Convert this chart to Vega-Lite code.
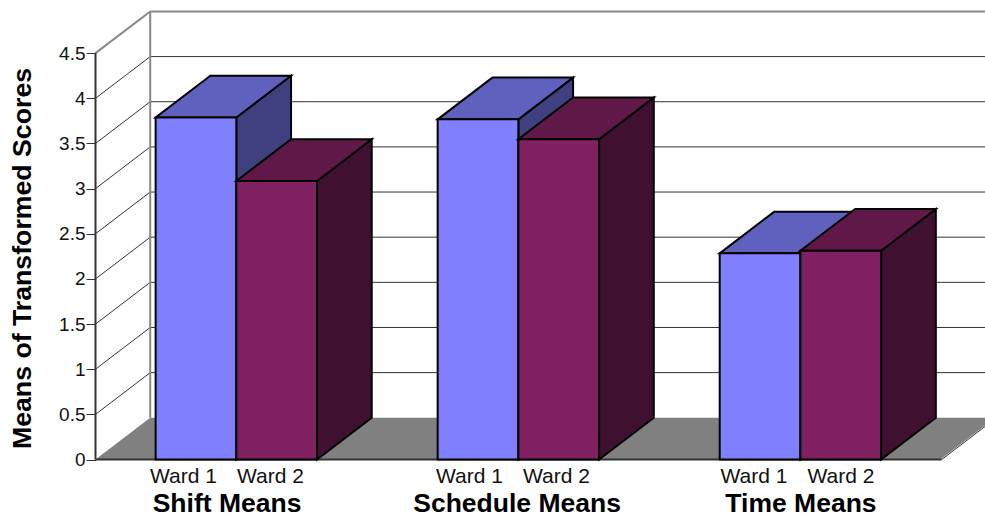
{
  "$schema": "https://vega.github.io/schema/vega-lite/v6.json",
  "width": 985,
  "height": 519,
  "padding": 0,
  "autosize": {"type": "none"},
  "background": "white",
  "view": {"stroke": null},
  "config": {"font": "Liberation Sans"},
  "resolve": {"axis": {"x": "independent", "y": "independent"}},
  "datasets": {
    "scores": [
      {"group": "Shift Means", "ward": "Ward 1", "value": 3.787},
      {"group": "Shift Means", "ward": "Ward 2", "value": 3.084},
      {"group": "Schedule Means", "ward": "Ward 1", "value": 3.767},
      {"group": "Schedule Means", "ward": "Ward 2", "value": 3.546},
      {"group": "Time Means", "ward": "Ward 1", "value": 2.283},
      {"group": "Time Means", "ward": "Ward 2", "value": 2.312}
    ],
    "ticks": [
      {"tick": 0}, {"tick": 0.5}, {"tick": 1}, {"tick": 1.5}, {"tick": 2},
      {"tick": 2.5}, {"tick": 3}, {"tick": 3.5}, {"tick": 4}, {"tick": 4.5}
    ]
  },
  "data": {"name": "scores"},
  "transform": [
    {"calculate": "indexof(['Shift Means','Schedule Means','Time Means'], datum.group)", "as": "g"},
    {"calculate": "datum.ward === 'Ward 1' ? 0 : 1", "as": "w"},
    {"calculate": "datum.g * 3.495 + datum.w + 0.745", "as": "x0"},
    {"calculate": "[0, 1]", "as": "step"},
    {"flatten": ["step"]},
    {"calculate": "datum.group + datum.ward", "as": "bar"},
    {"calculate": "datum.x0 + datum.step * 0.678", "as": "xl"},
    {"calculate": "datum.xl + 1", "as": "xr"},
    {"calculate": "datum.step * 0.462", "as": "base"},
    {"calculate": "datum.value + datum.step * 0.462", "as": "lift"}
  ],
  "layer": [
    {
      "data": {"name": "ticks"},
      "transform": [
        {"filter": "datum.tick <= 0.5"},
        {"calculate": "datum.tick * 2 * 0.678", "as": "fx"},
        {"calculate": "datum.fx + 10.47", "as": "fx2"},
        {"calculate": "datum.tick * 2 * 0.462", "as": "fy"}
      ],
      "mark": {"type": "area", "orient": "horizontal", "fill": "#808080", "clip": true},
      "encoding": {
        "x": {"field": "fx", "type": "quantitative", "scale": {"domain": [-1.1834, 11.0223], "nice": false, "zero": false}, "axis": null},
        "x2": {"field": "fx2"},
        "y": {"field": "fy", "type": "quantitative", "scale": {"domain": [-0.6589, 5.0886], "nice": false, "zero": false}, "axis": {
          "values": [0, 0.5, 1, 1.5, 2, 2.5, 3, 3.5, 4, 4.5],
          "format": "~g",
          "orient": "left", "offset": -95.5, "domain": false, "grid": false,
          "tickColor": "#333333", "tickSize": 9.5, "tickWidth": 1,
          "labelFont": "Liberation Sans", "labelFontSize": 19, "labelColor": "#111111", "labelPadding": 1,
          "title": "Means of Transformed Scores",
          "titleFont": "Liberation Sans", "titleFontSize": 26.7, "titleFontWeight": "bold", "titleColor": "black",
          "titleX": -65.5, "titleY": 258, "titleAngle": -90, "titleAlign": "center", "titleBaseline": "alphabetic"
        }}
      }
    },
    {
      "data": {"name": "ticks"},
      "transform": [
        {"filter": "datum.tick > 0 && datum.tick < 4.5"},
        {"calculate": "datum.tick + 0.462", "as": "back"}
      ],
      "layer": [
        {
          "mark": {"type": "rule", "color": "#333333", "strokeWidth": 1},
          "encoding": {
            "x": {"datum": 0, "type": "quantitative", "axis": null},
            "x2": {"datum": 0.678},
            "y": {"field": "tick", "type": "quantitative", "axis": null},
            "y2": {"field": "back"}
          }
        },
        {
          "mark": {"type": "rule", "color": "#333333", "strokeWidth": 1, "clip": true},
          "encoding": {
            "x": {"datum": 0.678, "type": "quantitative", "axis": null},
            "x2": {"datum": 11.2},
            "y": {"field": "back", "type": "quantitative", "axis": null}
          }
        }
      ]
    },
    {
      "data": {"name": "ticks"},
      "transform": [
        {"filter": "datum.tick === 4.5"},
        {"calculate": "datum.tick + 0.462", "as": "back"},
        {"calculate": "0", "as": "zero"},
        {"calculate": "0.462", "as": "floorBack"}
      ],
      "layer": [
        {
          "mark": {"type": "rule", "color": "#888888", "strokeWidth": 2},
          "encoding": {
            "x": {"datum": 0, "type": "quantitative", "axis": null},
            "x2": {"datum": 0.678},
            "y": {"field": "tick", "type": "quantitative", "axis": null},
            "y2": {"field": "back"}
          }
        },
        {
          "mark": {"type": "rule", "color": "#888888", "strokeWidth": 2, "clip": true},
          "encoding": {
            "x": {"datum": 0.678, "type": "quantitative", "axis": null},
            "x2": {"datum": 11.2},
            "y": {"field": "back", "type": "quantitative", "axis": null}
          }
        },
        {
          "mark": {"type": "rule", "color": "#888888", "strokeWidth": 2},
          "encoding": {
            "x": {"datum": 0.678, "type": "quantitative", "axis": null},
            "y": {"field": "floorBack", "type": "quantitative", "axis": null},
            "y2": {"field": "back"}
          }
        },
        {
          "mark": {"type": "rule", "color": "#333333", "strokeWidth": 2},
          "encoding": {
            "x": {"datum": 0, "type": "quantitative", "axis": null},
            "y": {"field": "zero", "type": "quantitative", "axis": null},
            "y2": {"field": "tick"}
          }
        },
        {
          "mark": {"type": "rule", "color": "#333333", "strokeWidth": 2},
          "encoding": {
            "x": {"datum": 0, "type": "quantitative", "axis": null},
            "x2": {"datum": 10.486},
            "y": {"field": "zero", "type": "quantitative", "axis": null}
          }
        },
        {
          "mark": {"type": "rule", "color": "#333333", "strokeWidth": 1, "clip": true},
          "encoding": {
            "x": {"datum": 10.486, "type": "quantitative", "axis": null},
            "x2": {"datum": 11.164},
            "y": {"field": "zero", "type": "quantitative", "axis": null},
            "y2": {"field": "floorBack"}
          }
        }
      ]
    },
    {
      "transform": [{"filter": "datum.w === 0"}],
      "layer": [
        {
          "mark": {"type": "area", "orient": "vertical", "fill": "#404080", "stroke": "black", "strokeWidth": 2},
          "encoding": {
            "x": {"field": "xr", "type": "quantitative", "axis": null},
            "y": {"field": "lift", "type": "quantitative", "axis": null},
            "y2": {"field": "base"},
            "detail": {"field": "bar"}
          }
        },
        {
          "mark": {"type": "area", "orient": "horizontal", "fill": "#6060BF", "stroke": "black", "strokeWidth": 2},
          "encoding": {
            "x": {"field": "xl", "type": "quantitative", "axis": null},
            "x2": {"field": "xr"},
            "y": {"field": "lift", "type": "quantitative", "axis": null},
            "detail": {"field": "bar"}
          }
        },
        {
          "transform": [{"filter": "datum.step === 0"}],
          "mark": {"type": "rect", "fill": "#8080FF", "stroke": "black", "strokeWidth": 2},
          "encoding": {
            "x": {"field": "xl", "type": "quantitative", "axis": null},
            "x2": {"field": "xr"},
            "y": {"field": "value", "type": "quantitative", "axis": null},
            "y2": {"datum": 0}
          }
        }
      ]
    },
    {
      "transform": [{"filter": "datum.w === 1"}],
      "layer": [
        {
          "mark": {"type": "area", "orient": "vertical", "fill": "#401030", "stroke": "black", "strokeWidth": 2},
          "encoding": {
            "x": {"field": "xr", "type": "quantitative", "axis": null},
            "y": {"field": "lift", "type": "quantitative", "axis": null},
            "y2": {"field": "base"},
            "detail": {"field": "bar"}
          }
        },
        {
          "mark": {"type": "area", "orient": "horizontal", "fill": "#601848", "stroke": "black", "strokeWidth": 2},
          "encoding": {
            "x": {"field": "xl", "type": "quantitative", "axis": null},
            "x2": {"field": "xr"},
            "y": {"field": "lift", "type": "quantitative", "axis": null},
            "detail": {"field": "bar"}
          }
        },
        {
          "transform": [{"filter": "datum.step === 0"}],
          "mark": {"type": "rect", "fill": "#802060", "stroke": "black", "strokeWidth": 2},
          "encoding": {
            "x": {"field": "xl", "type": "quantitative", "axis": null},
            "x2": {"field": "xr"},
            "y": {"field": "value", "type": "quantitative", "axis": null},
            "y2": {"datum": 0}
          }
        }
      ]
    },
    {
      "transform": [
        {"filter": "datum.step === 0"},
        {"calculate": "[0, 3.544, 7.07][datum.g] + datum.w * 1.078 + 1.09", "as": "labelX"}
      ],
      "mark": {"type": "text", "font": "Liberation Sans", "fontSize": 21, "color": "#111111", "align": "center", "baseline": "alphabetic"},
      "encoding": {
        "x": {"field": "labelX", "type": "quantitative", "axis": null},
        "y": {"datum": -0.258, "type": "quantitative", "axis": null},
        "text": {"field": "ward"}
      }
    },
    {
      "transform": [
        {"filter": "datum.step === 0 && datum.w === 0"},
        {"calculate": "[0, 3.594, 7.112][datum.g] + 1.63", "as": "labelX"}
      ],
      "mark": {"type": "text", "font": "Liberation Sans", "fontSize": 26.5, "fontWeight": "bold", "color": "black", "align": "center", "baseline": "alphabetic"},
      "encoding": {
        "x": {"field": "labelX", "type": "quantitative", "axis": null},
        "y": {"datum": -0.581, "type": "quantitative", "axis": null},
        "text": {"field": "group"}
      }
    }
  ]
}
